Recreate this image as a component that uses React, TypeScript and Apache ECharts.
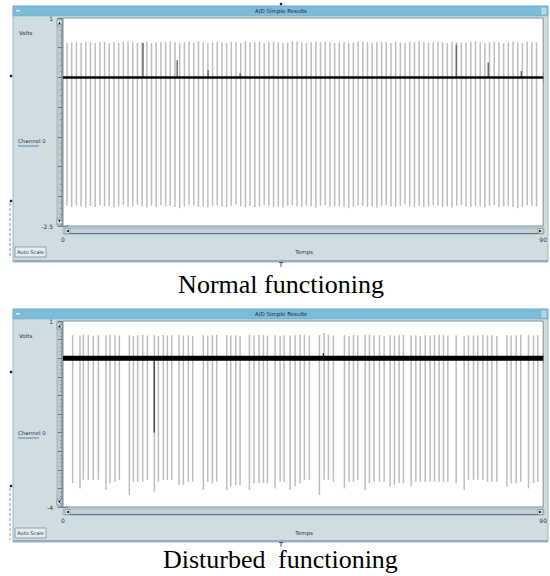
import React, { useEffect, useRef } from "react";
import * as echarts from "echarts";

// ---------- data ----------
const normalSpikeTimes = [
  0.75, 1.63, 2.51, 3.39, 4.27, 5.15, 6.03, 6.91, 7.79, 8.67,
  9.55, 10.43, 11.31, 12.19, 13.07, 13.95, 14.83, 15.71, 16.59, 17.47,
  18.35, 19.23, 20.11, 20.99, 21.87, 22.75, 23.63, 24.51, 25.39, 26.27,
  27.15, 28.03, 28.91, 29.79, 30.67, 31.55, 32.43, 33.31, 34.19, 35.07,
  35.95, 36.83, 37.71, 38.59, 39.47, 40.35, 41.23, 42.11, 42.99, 43.87,
  44.75, 45.63, 46.51, 47.39, 48.27, 49.15, 50.03, 50.91, 51.79, 52.67,
  53.55, 54.43, 55.31, 56.19, 57.07, 57.95, 58.83, 59.71, 60.59, 61.47,
  62.35, 63.23, 64.11, 64.99, 65.87, 66.75, 67.63, 68.51, 69.39, 70.27,
  71.15, 72.03, 72.91, 73.79, 74.67, 75.55, 76.43, 77.31, 78.19, 79.07,
  79.95, 80.83, 81.71, 82.59, 83.47, 84.35, 85.23, 86.11, 86.99, 87.87,
  88.75,
];
const normalSpikeTops = [
  0.58, 0.59, 0.59, 0.58, 0.6, 0.59, 0.58, 0.59, 0.6, 0.58,
  0.59, 0.58, 0.6, 0.61, 0.59, 0.58, 0.59, 0.6, 0.58, 0.59,
  0.59, 0.6, 0.61, 0.59, 0.58, 0.59, 0.6, 0.59, 0.61, 0.59,
  0.58, 0.59, 0.6, 0.59, 0.58, 0.6, 0.59, 0.58, 0.61, 0.59,
  0.59, 0.6, 0.58, 0.59, 0.6, 0.59, 0.58, 0.59, 0.61, 0.6,
  0.59, 0.58, 0.59, 0.6, 0.59, 0.61, 0.59, 0.58, 0.59, 0.6,
  0.58, 0.59, 0.61, 0.6, 0.59, 0.58, 0.59, 0.6, 0.59, 0.58,
  0.6, 0.59, 0.58, 0.6, 0.59, 0.61, 0.59, 0.58, 0.59, 0.6,
  0.59, 0.58, 0.6, 0.59, 0.59, 0.58, 0.6, 0.61, 0.59, 0.58,
  0.59, 0.6, 0.59, 0.58, 0.59, 0.6, 0.59, 0.58, 0.6, 0.59,
  0.59,
];
const normalSpikeBottoms = [
  -2.16, -2.18, -2.15, -2.17, -2.19, -2.16, -2.18, -2.15, -2.17, -2.16,
  -2.19, -2.17, -2.15, -2.18, -2.16, -2.14, -2.17, -2.19, -2.16, -2.18,
  -2.15, -2.17, -2.16, -2.18, -2.2, -2.17, -2.15, -2.16, -2.18, -2.17,
  -2.19, -2.16, -2.15, -2.17, -2.18, -2.16, -2.14, -2.17, -2.19, -2.16,
  -2.18, -2.17, -2.15, -2.16, -2.18, -2.17, -2.19, -2.16, -2.15, -2.17,
  -2.18, -2.16, -2.17, -2.19, -2.16, -2.15, -2.18, -2.17, -2.16, -2.18,
  -2.2, -2.17, -2.15, -2.16, -2.18, -2.17, -2.19, -2.16, -2.15, -2.17,
  -2.18, -2.16, -2.14, -2.17, -2.19, -2.16, -2.18, -2.17, -2.15, -2.16,
  -2.18, -2.17, -2.19, -2.16, -2.15, -2.17, -2.18, -2.16, -2.17, -2.19,
  -2.16, -2.15, -2.18, -2.17, -2.16, -2.18, -2.2, -2.17, -2.15, -2.16,
  -2.17,
];
const normalMarkTimes = [15.0, 21.4, 27.2, 33.2, 39.2, 73.7, 79.7, 85.9];
const normalMarkHeights = [0.58, 0.29, 0.12, 0.07, 0.03, 0.55, 0.25, 0.11];

const disturbedSpikeTimes = [
  1.81, 3.19, 3.81, 4.75, 5.69, 6.63, 8.06, 8.81, 9.75, 10.56,
  12.44, 13.19, 14.0, 14.94, 15.81, 17.13, 17.88, 18.81, 19.56, 20.38,
  21.75, 22.56, 23.5, 24.31, 26.31, 27.13, 28.0, 28.81, 30.69, 31.44,
  32.38, 33.19, 34.94, 35.81, 36.75, 37.56, 38.31, 39.75, 40.69, 41.44,
  42.56, 43.5, 44.44, 45.25, 46.19, 48.06, 48.94, 49.75, 50.69, 52.75,
  53.63, 54.44, 55.25, 56.63, 57.44, 58.31, 59.31, 60.19, 61.31, 62.13,
  63.0, 63.81, 65.25, 66.13, 66.94, 67.88, 68.81, 69.63, 70.5, 71.31,
  72.13, 73.69, 75.19, 76.0, 76.94, 77.75, 78.69, 79.56, 80.38, 81.31,
  83.19, 84.0, 84.94, 85.81, 87.25, 88.19, 89.0,
];
const disturbedSpikeTops = [
  0.62, 0.61, 0.63, 0.62, 0.6, 0.62, 0.61, 0.63, 0.62, 0.61,
  0.62, 0.6, 0.62, 0.63, 0.61, 0.62, 0.6, 0.62, 0.61, 0.62,
  0.63, 0.61, 0.62, 0.6, 0.62, 0.61, 0.62, 0.63, 0.62, 0.61,
  0.62, 0.6, 0.62, 0.61, 0.63, 0.62, 0.61, 0.62, 0.6, 0.62,
  0.61, 0.62, 0.63, 0.62, 0.61, 0.62, 0.68, 0.62, 0.61, 0.62,
  0.6, 0.62, 0.61, 0.63, 0.62, 0.61, 0.62, 0.6, 0.62, 0.61,
  0.62, 0.63, 0.61, 0.62, 0.6, 0.62, 0.61, 0.62, 0.63, 0.62,
  0.61, 0.62, 0.6, 0.62, 0.61, 0.62, 0.63, 0.61, 0.62, 0.6,
  0.62, 0.61, 0.62, 0.63, 0.62, 0.61, 0.62,
];
const disturbedSpikeBottoms = [
  -3.36, -3.5, -3.27, -3.27, -3.27, -3.27, -3.54, -3.36, -3.32, -3.27,
  -3.68, -3.32, -3.32, -3.32, -3.27, -3.59, -3.32, -3.27, -3.27, -3.27,
  -3.41, -3.41, -3.32, -3.32, -3.54, -3.32, -3.36, -3.32, -3.54, -3.45,
  -3.41, -3.41, -3.54, -3.36, -3.36, -3.36, -3.36, -3.5, -3.32, -3.32,
  -3.54, -3.45, -3.36, -3.27, -3.27, -3.68, -3.27, -3.27, -3.32, -3.5,
  -3.32, -3.32, -3.27, -3.54, -3.36, -3.32, -3.32, -3.32, -3.45, -3.41,
  -3.36, -3.36, -3.45, -3.32, -3.32, -3.32, -3.32, -3.32, -3.32, -3.32,
  -3.32, -3.36, -3.54, -3.27, -3.27, -3.27, -3.27, -3.32, -3.32, -3.32,
  -3.45, -3.36, -3.36, -3.32, -3.5, -3.36, -3.32,
];
const disturbedMarkTimes = [17.1, 48.8];
const disturbedMarkEnds = [-2.0, 0.14];

const baselineTimes = [0, 90];
const baselineValues = [0, 0];

const xRange = [0, 90];
const normalYRange = [-2.5, 1];
const disturbedYRange = [-4, 1];

const windowTitle = "A/D Simple Results";
const yName = "Volts";
const legendName = "Channel 0";
const xName = "Temps";
const buttonText = "Auto Scale";
const captions = ["Normal functioning", "Disturbed", "functioning"];

// ---------- helpers ----------
const UI_FONT = "DejaVu Sans";
const spikeRender = (stroke: string, lw: number) => (params: any, api: any) => {
  const a = api.coord([api.value(0), api.value(1)]);
  const b = api.coord([api.value(0), api.value(2)]);
  return {
    type: "line",
    shape: { x1: a[0], y1: a[1], x2: b[0], y2: b[1] },
    style: { stroke, lineWidth: lw },
  };
};

function xAxes(gridIndex: number) {
  const base = {
    gridIndex,
    type: "value",
    min: xRange[0],
    max: xRange[1],
    interval: 10,
    splitLine: { show: false },
    axisLine: { show: false },
    axisTick: { show: true, inside: true, length: 5, lineStyle: { color: "#6d7880", width: 1 } },
    minorTick: { show: true, splitNumber: 4, length: 3, lineStyle: { color: "#8a949a" } },
  };
  return [
    {
      ...base,
      position: "bottom",
      axisLabel: {
        show: true,
        margin: 10,
        fontSize: 6,
        fontFamily: UI_FONT,
        color: "#333",
        showMinLabel: true,
        showMaxLabel: true,
        formatter: (v: number) => (v === xRange[0] || v === xRange[1] ? String(v) : ""),
      },
    },
    { ...base, position: "top", axisLabel: { show: false } },
  ];
}

function yAxes(gridIndex: number, range: number[]) {
  const base = {
    gridIndex,
    type: "value",
    min: range[0],
    max: range[1],
    interval: 0.5,
    splitLine: { show: false },
    axisLine: { show: false },
    axisTick: { show: true, inside: true, length: 5, lineStyle: { color: "#6d7880", width: 1 } },
    minorTick: { show: true, splitNumber: 5, length: 3, lineStyle: { color: "#8a949a" } },
  };
  return [
    {
      ...base,
      position: "left",
      axisLabel: {
        show: true,
        margin: 10,
        fontSize: 6,
        fontFamily: UI_FONT,
        color: "#333",
        formatter: (v: number) => (v === range[0] || v === range[1] ? String(v) : ""),
      },
    },
    { ...base, position: "right", axisLabel: { show: false } },
  ];
}

function panelGraphics(p: {
  top: number;
  bottom: number;
  plotTop: number;
  plotBottom: number;
  voltsY: number;
  channelY: number;
  autoY: number;
  tempsY: number;
}) {
  const L = 13;
  const R = 548;
  const plotL = 63;
  const plotR = 544;
  const els: any[] = [];
  els.push({
    type: "rect",
    shape: { x: L, y: p.top, width: R - L, height: p.bottom - p.top },
    style: { fill: "#cfdde1", stroke: "#9fb6c4", lineWidth: 1 },
    z: 0,
  });
  els.push({
    type: "line",
    shape: { x1: L, y1: p.bottom - 1, x2: R, y2: p.bottom - 1 },
    style: { stroke: "#9aa8c4", lineWidth: 2 },
  });
  els.push({
    type: "rect",
    shape: { x: L, y: p.top, width: R - L, height: 10 },
    style: { fill: "#7cbcd9", stroke: "#6aa9c6", lineWidth: 0.5 },
  });
  els.push({
    type: "rect",
    shape: { x: L + 3, y: p.top + 4, width: 4, height: 1.5 },
    style: { fill: "#d8ecf5" },
  });
  els.push({
    type: "rect",
    shape: { x: R - 6, y: p.top + 2, width: 4, height: 6 },
    style: { fill: "#a9d3e6", stroke: "#e6f3f9", lineWidth: 0.5 },
  });
  els.push({
    type: "text",
    x: 281,
    y: p.top + 5,
    style: {
      text: windowTitle,
      fontSize: 5.5,
      fontFamily: UI_FONT,
      fill: "#1d2a33",
      align: "center",
      verticalAlign: "middle",
    },
  });
  els.push({
    type: "text",
    x: 19,
    y: p.voltsY,
    style: { text: yName, fontSize: 5.5, fontFamily: UI_FONT, fill: "#2a333a", verticalAlign: "middle" },
  });
  els.push({
    type: "text",
    x: 18,
    y: p.channelY,
    style: { text: legendName, fontSize: 5.5, fontFamily: UI_FONT, fill: "#2a333a", verticalAlign: "middle" },
  });
  els.push({
    type: "line",
    shape: { x1: 18, y1: p.channelY + 5, x2: 39, y2: p.channelY + 5 },
    style: { stroke: "#5b82a8", lineWidth: 1 },
  });
  // y scroll bar
  els.push({
    type: "rect",
    shape: { x: 57, y: p.plotTop, width: 5, height: p.plotBottom - p.plotTop },
    style: { fill: "#bccbd2", stroke: "#8a9ca8", lineWidth: 0.6 },
  });
  els.push({
    type: "line",
    shape: { x1: 62, y1: p.plotTop, x2: 62, y2: p.plotBottom },
    style: { stroke: "#6d7f8c", lineWidth: 1 },
  });
  els.push({
    type: "rect",
    shape: { x: 57, y: p.plotTop + 2, width: 5, height: 6 },
    style: { fill: "#e2eaee", stroke: "#6d7f8c", lineWidth: 0.6 },
  });
  els.push({
    type: "polygon",
    shape: { points: [[59.5, p.plotTop + 3.5], [58, p.plotTop + 6.5], [61, p.plotTop + 6.5]] },
    style: { fill: "#222" },
  });
  els.push({
    type: "rect",
    shape: { x: 57, y: p.plotBottom - 8, width: 5, height: 6 },
    style: { fill: "#e2eaee", stroke: "#6d7f8c", lineWidth: 0.6 },
  });
  els.push({
    type: "polygon",
    shape: { points: [[59.5, p.plotBottom - 3.5], [58, p.plotBottom - 6.5], [61, p.plotBottom - 6.5]] },
    style: { fill: "#222" },
  });
  // x scroll bar
  const sy = p.plotBottom + 2;
  els.push({
    type: "rect",
    shape: { x: plotL, y: sy, width: plotR - plotL, height: 6 },
    style: { fill: "#c3d2d8", stroke: "#8a9ca8", lineWidth: 0.6 },
  });
  els.push({
    type: "line",
    shape: { x1: plotL + 7, y1: sy + 5.5, x2: plotR - 6, y2: sy + 5.5 },
    style: { stroke: "#5c7080", lineWidth: 1.2 },
  });
  els.push({
    type: "rect",
    shape: { x: plotL + 2, y: sy + 0.5, width: 5, height: 5 },
    style: { fill: "#e2eaee", stroke: "#6d7f8c", lineWidth: 0.6 },
  });
  els.push({
    type: "polygon",
    shape: { points: [[plotL + 3, sy + 3], [plotL + 6, sy + 1.5], [plotL + 6, sy + 4.5]] },
    style: { fill: "#222" },
  });
  els.push({
    type: "rect",
    shape: { x: plotR - 6, y: sy + 0.5, width: 5, height: 5 },
    style: { fill: "#e2eaee", stroke: "#6d7f8c", lineWidth: 0.6 },
  });
  els.push({
    type: "polygon",
    shape: { points: [[plotR - 2, sy + 3], [plotR - 5, sy + 1.5], [plotR - 5, sy + 4.5]] },
    style: { fill: "#222" },
  });
  // Auto Scale button
  els.push({
    type: "rect",
    shape: { x: 15, y: p.autoY, width: 31, height: 10 },
    style: { fill: "#e4ecee", stroke: "#7f939f", lineWidth: 0.8 },
  });
  els.push({
    type: "text",
    x: 30.5,
    y: p.autoY + 5,
    style: {
      text: buttonText,
      fontSize: 5,
      fontFamily: UI_FONT,
      fill: "#2a333a",
      align: "center",
      verticalAlign: "middle",
    },
  });
  els.push({
    type: "text",
    x: 304,
    y: p.tempsY,
    style: { text: xName, fontSize: 5.5, fontFamily: UI_FONT, fill: "#2a333a", align: "center", verticalAlign: "middle" },
  });
  return els;
}

export default function App() {
  const ref = useRef<HTMLDivElement>(null);
  useEffect(() => {
    document.body.style.margin = "0";
    if (!ref.current) return;
    const chart = echarts.init(ref.current, undefined, { renderer: "svg" });

    const normalSpikes = normalSpikeTimes.map((t, i) => [t, normalSpikeTops[i], normalSpikeBottoms[i]]);
    const normalMarks = normalMarkTimes.map((t, i) => [t, 0, normalMarkHeights[i]]);
    const disturbedSpikes = disturbedSpikeTimes.map((t, i) => [t, disturbedSpikeTops[i], disturbedSpikeBottoms[i]]);
    const disturbedMarks = disturbedMarkTimes.map((t, i) => [t, 0, disturbedMarkEnds[i]]);
    const baseline = baselineTimes.map((t, i) => [t, baselineValues[i]]);

    const panel1 = panelGraphics({
      top: 6,
      bottom: 262,
      plotTop: 18,
      plotBottom: 226,
      voltsY: 33,
      channelY: 141,
      autoY: 247,
      tempsY: 252,
    });
    const panel2 = panelGraphics({
      top: 309,
      bottom: 542,
      plotTop: 321,
      plotBottom: 507,
      voltsY: 336,
      channelY: 433,
      autoY: 528,
      tempsY: 533,
    });

    const handles: any[] = [
      { type: "circle", shape: { cx: 11, cy: 76, r: 1.3 }, style: { fill: "#222" } },
      { type: "circle", shape: { cx: 11, cy: 201, r: 1.3 }, style: { fill: "#222" } },
      { type: "line", shape: { x1: 10, y1: 203, x2: 10, y2: 258 }, style: { stroke: "#777", lineWidth: 0.8, lineDash: [3, 2] } },
      { type: "circle", shape: { cx: 11, cy: 372, r: 1.3 }, style: { fill: "#222" } },
      { type: "circle", shape: { cx: 11, cy: 486, r: 1.3 }, style: { fill: "#222" } },
      { type: "line", shape: { x1: 10, y1: 488, x2: 10, y2: 540 }, style: { stroke: "#777", lineWidth: 0.8, lineDash: [3, 2] } },
      { type: "circle", shape: { cx: 281, cy: 4, r: 1.3 }, style: { fill: "#222" } },
      { type: "line", shape: { x1: 281, y1: 262, x2: 281, y2: 267 }, style: { stroke: "#333", lineWidth: 0.8 } },
      { type: "line", shape: { x1: 279, y1: 262.5, x2: 283, y2: 262.5 }, style: { stroke: "#333", lineWidth: 0.8 } },
      { type: "line", shape: { x1: 281, y1: 542, x2: 281, y2: 547 }, style: { stroke: "#333", lineWidth: 0.8 } },
      { type: "line", shape: { x1: 279, y1: 542.5, x2: 283, y2: 542.5 }, style: { stroke: "#333", lineWidth: 0.8 } },
    ];

    const captionStyle = { fontSize: 26, fontFamily: "Liberation Serif", fill: "#000", verticalAlign: "middle" };
    const captionEls: any[] = [
      { type: "text", x: 281, y: 284, style: { ...captionStyle, text: captions[0], align: "center" } },
      { type: "text", x: 163, y: 559, style: { ...captionStyle, text: captions[1], align: "left" } },
      { type: "text", x: 278, y: 559, style: { ...captionStyle, text: captions[2], align: "left" } },
    ];

    chart.setOption({
      animation: false,
      backgroundColor: "#ffffff",
      grid: [
        { left: 63, top: 18, width: 481, height: 208, show: true, backgroundColor: "#ffffff", borderColor: "#7e8d97", borderWidth: 1, z: 1 },
        { left: 63, top: 321, width: 481, height: 186, show: true, backgroundColor: "#ffffff", borderColor: "#7e8d97", borderWidth: 1, z: 1 },
      ],
      xAxis: [...xAxes(0), ...xAxes(1)],
      yAxis: [...yAxes(0, normalYRange), ...yAxes(1, disturbedYRange)],
      graphic: { elements: [...panel1, ...panel2, ...handles, ...captionEls] },
      series: [
        {
          type: "custom",
          xAxisIndex: 0,
          yAxisIndex: 0,
          renderItem: spikeRender("#bdbdbd", 1.5),
          encode: { x: 0, y: [1, 2] },
          data: normalSpikes,
          z: 3,
          silent: true,
        },
        {
          type: "custom",
          xAxisIndex: 0,
          yAxisIndex: 0,
          renderItem: spikeRender("#5a5a5a", 1.3),
          encode: { x: 0, y: [1, 2] },
          data: normalMarks,
          z: 4,
          silent: true,
        },
        {
          type: "line",
          xAxisIndex: 0,
          yAxisIndex: 0,
          data: baseline,
          symbol: "none",
          lineStyle: { color: "#000", width: 2.5 },
          z: 5,
          silent: true,
        },
        {
          type: "custom",
          xAxisIndex: 2,
          yAxisIndex: 2,
          renderItem: spikeRender("#bdbdbd", 1.5),
          encode: { x: 0, y: [1, 2] },
          data: disturbedSpikes,
          z: 3,
          silent: true,
        },
        {
          type: "custom",
          xAxisIndex: 2,
          yAxisIndex: 2,
          renderItem: spikeRender("#333333", 1.3),
          encode: { x: 0, y: [1, 2] },
          data: disturbedMarks,
          z: 4,
          silent: true,
        },
        {
          type: "line",
          xAxisIndex: 2,
          yAxisIndex: 2,
          data: baseline,
          symbol: "none",
          lineStyle: { color: "#000", width: 5 },
          z: 5,
          silent: true,
        },
      ],
    });
    return () => chart.dispose();
  }, []);
  return <div ref={ref} style={{ width: 550, height: 576 }} />;
}
